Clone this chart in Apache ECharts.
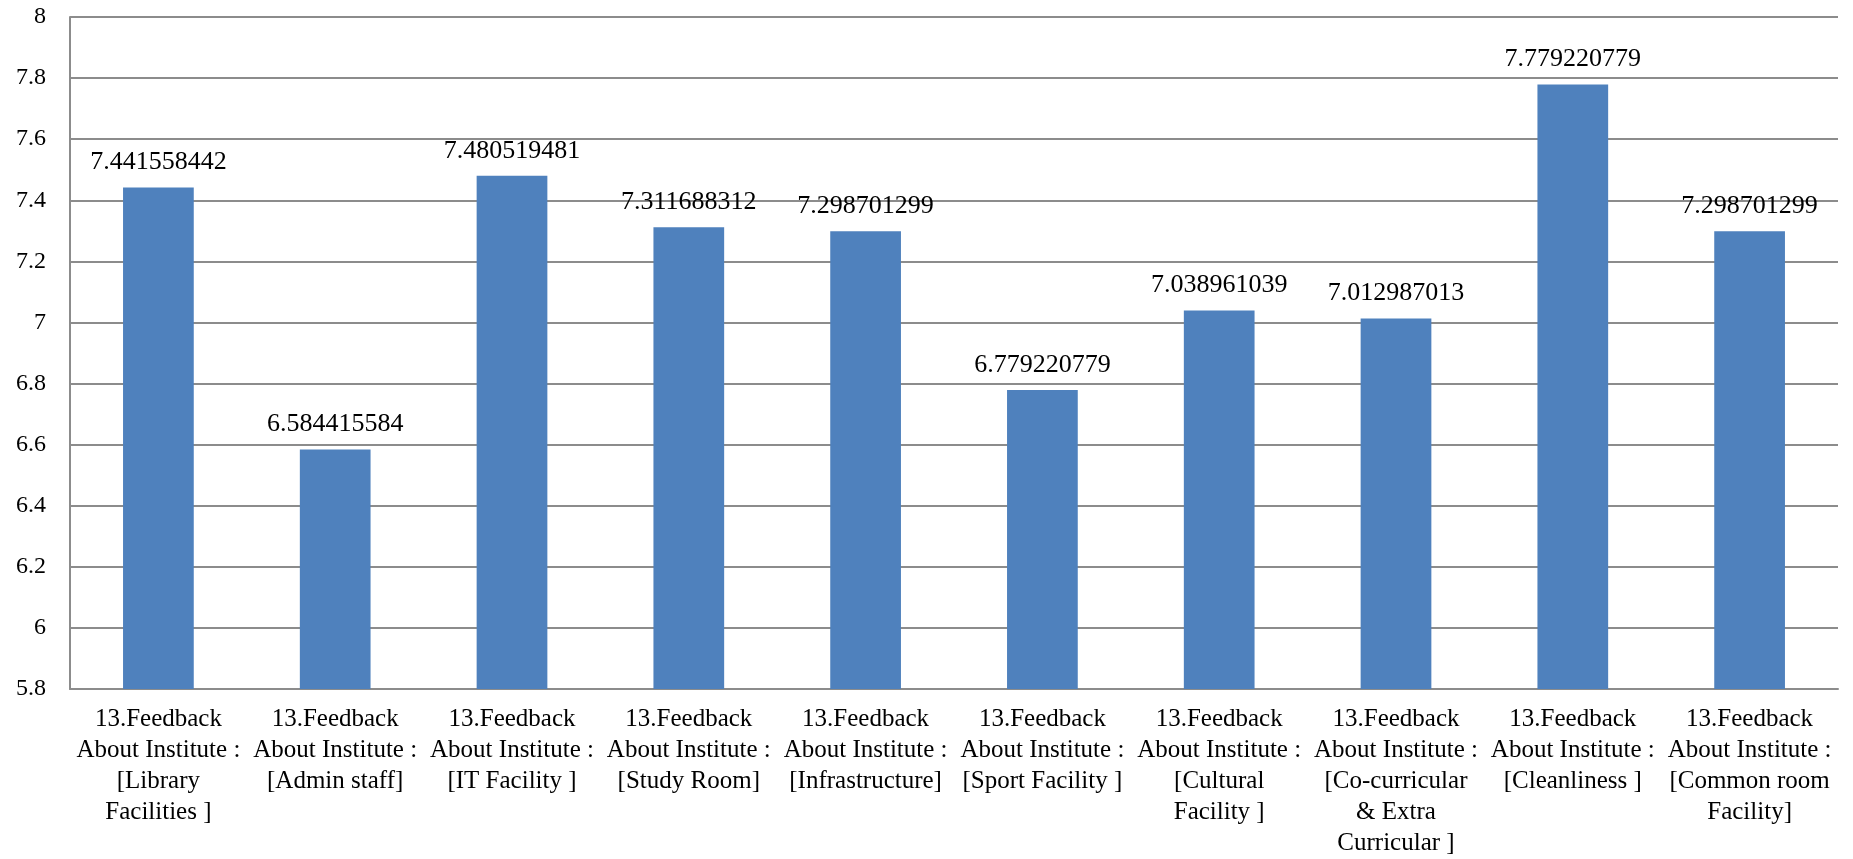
<!DOCTYPE html>
<html>
<head>
<meta charset="utf-8">
<script src="https://cdn.jsdelivr.net/npm/echarts@6/dist/echarts.min.js"></script>
<style>
html,body{margin:0;padding:0;background:#fff;}
#chart{width:1853px;height:859px;}
</style>
</head>
<body>
<div id="chart"></div>
<script>
const categories = [
  "13.Feedback\nAbout Institute :\n[Library\nFacilities ]",
  "13.Feedback\nAbout Institute :\n[Admin staff]",
  "13.Feedback\nAbout Institute :\n[IT Facility ]",
  "13.Feedback\nAbout Institute :\n[Study Room]",
  "13.Feedback\nAbout Institute :\n[Infrastructure]",
  "13.Feedback\nAbout Institute :\n[Sport Facility ]",
  "13.Feedback\nAbout Institute :\n[Cultural\nFacility ]",
  "13.Feedback\nAbout Institute :\n[Co-curricular\n& Extra\nCurricular ]",
  "13.Feedback\nAbout Institute :\n[Cleanliness ]",
  "13.Feedback\nAbout Institute :\n[Common room\nFacility]"
];
const values = [7.441558442, 6.584415584, 7.480519481, 7.311688312, 7.298701299,
                6.779220779, 7.038961039, 7.012987013, 7.779220779, 7.298701299];
const yMin = 5.8, yMax = 8, yStep = 0.2;

const chart = echarts.init(document.getElementById('chart'));
const font = '"Liberation Serif", "Times New Roman", serif';
chart.setOption({
  animation: false,
  backgroundColor: '#ffffff',
  grid: { left: 70, right: 15, top: 17, bottom: 170, containLabel: false },
  xAxis: {
    type: 'category',
    data: categories,
    axisLine: { show: true, lineStyle: { color: '#8c8c8c', width: 2 } },
    axisTick: { show: false },
    axisLabel: {
      interval: 0,
      margin: 15,
      color: '#000',
      fontFamily: font,
      fontSize: 25,
      lineHeight: 31,
      align: 'center'
    }
  },
  yAxis: {
    type: 'value',
    min: yMin, max: yMax, interval: yStep,
    axisLine: { show: true, lineStyle: { color: '#8c8c8c', width: 2 } },
    axisTick: { show: false },
    splitLine: { show: true, lineStyle: { color: '#8c8c8c', width: 2 } },
    axisLabel: {
      margin: 24,
      color: '#000',
      fontFamily: font,
      fontSize: 24,
      formatter: v => String(+v.toFixed(1))
    }
  },
  series: [{
    type: 'bar',
    data: values,
    barWidth: '40%',
    itemStyle: { color: '#4F81BD' },
    label: {
      show: true,
      position: 'top',
      distance: 12,
      color: '#000',
      fontFamily: font,
      fontSize: 26,
      formatter: p => String(p.value)
    }
  }]
});
</script>
</body>
</html>
